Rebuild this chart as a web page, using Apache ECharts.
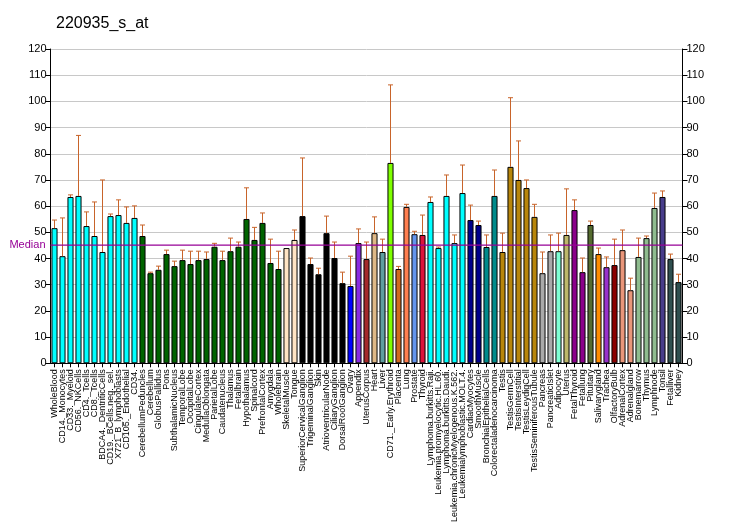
<!DOCTYPE html>
<html><head><meta charset="utf-8">
<script src="https://cdn.jsdelivr.net/npm/echarts@6/dist/echarts.min.js"></script>
<style>html,body{margin:0;padding:0;background:#fff}#c{width:732px;height:530px}</style>
</head><body><div id="c"></div>
<script>
const categories = ["WholeBlood","CD14._Monocytes","CD33._Myeloid","CD56._NKCells","CD4._Tcells","CD8._Tcells","BDCA4._DentriticCells","CD19._BCells.neg._sel.","X721_B_lymphoblasts","CD105._Endothelial","CD34.",
"CerebellumPeduncles","Cerebellum","GlobusPallidus","Pons","SubthalamicNucleus","TemporalLobe","OccipitalLobe","CingulateCortex","MedullaOblongata","ParietalLobe","Caudatenucleus","Thalamus","Fetalbrain","Hypothalamus","Spinalcord","PrefrontalCortex","Amygdala","Wholebrain",
"SkeletalMuscle","Tongue","SuperiorCervicalGanglion","TrigeminalGanglion","Skin","AtrioventricularNode","CiliaryGanglion","DorsalRootGanglion","Ovary","Appendix","UterusCorpus","Heart","Liver","CD71._Early.Erythroid","Placenta","Lung","Prostate","Thyroid",
"Lymphoma.burkitts.Raji.","Leukemia.promyelocytic.HL.60.","Lymphoma.burkitts.Daudi.","Leukemia.chronicMyelogenous.K.562.","Leukemialymphoblastic.MOLT.4.",
"CardiacMyocytes","SmoothMuscle","BronchialEpithelialCells","Colorectaladenocarcinoma","Testis","TestisGermCell","TestisInterstitial","TestisLeydigCell","TestisSeminiferousTubule","Pancreas","PancreaticIslet","Adipocyte","Uterus","FetalThyroid","Fetallung","Pituitary","Salivarygland","Trachea","OlfactoryBulb","AdrenalCortex","Adrenalgland","Bonemarrow","Thymus","Lymphnode","Tonsil","Fetalliver","Kidney"];
const values = [51.6,40.9,63.5,63.9,52.4,48.6,42.5,56.2,56.6,53.6,55.5,
48.6,34.4,35.7,41.7,37.1,39.4,37.9,39.4,39.8,44.5,39.4,42.8,44.5,55.1,47.1,53.6,38.3,36.0,
44.0,47.1,56.2,37.9,34.0,49.7,40.2,30.6,29.5,45.9,39.8,49.7,42.5,76.5,36.0,59.7,49.3,49.0,
61.6,44.0,63.9,45.9,65.0,
54.7,52.8,44.4,63.9,42.5,75.0,70.0,66.9,55.9,34.4,42.8,42.8,49.0,58.5,34.8,52.8,41.7,36.7,37.5,43.2,27.9,40.6,47.8,59.3,63.5,39.8,31.0];
const errTops = [54.7,55.5,64.3,87.0,57.8,61.6,70.0,57.0,62.4,59.7,60.1,
52.8,34.8,37.1,43.2,39.0,43.2,42.8,42.8,42.5,45.8,42.8,47.8,46.3,67.0,51.9,57.4,47.4,42.8,
44.0,50.9,78.4,40.2,36.3,56.2,46.3,34.8,40.9,51.3,46.3,55.9,47.4,106.3,37.0,60.7,50.4,56.6,
63.5,44.4,71.9,49.0,75.7,
60.4,54.3,49.0,73.8,49.7,101.4,84.9,70.0,60.7,42.5,49.0,49.7,66.6,62.4,40.2,54.3,44.0,40.6,47.4,50.9,32.5,47.8,48.6,65.0,65.8,41.7,34.0];
const groupColors = ["#00FFFF","#006400","#FFE4C4","#000000","#0000FF","#8A2BE2","#A52A2A","#DEB887","#5F9EA0","#7FFF00","#D2691E","#FF7F50","#6495ED","#DC143C","#00FFFF","#00008B","#008B8B","#B8860B","#A9A9A9","#7FFFD4","#BDB76B","#8B008B","#556B2F","#FF8C00","#9932CC","#8B0000","#E9967A","#8FBC8F","#483D8B","#2F4F4F"];
const groupSizes = [11,18,2,6,1,1,1,1,1,1,1,1,1,1,5,2,2,5,2,1,1,2,1,1,1,1,2,3,1,2];
const yTicks = [0,10,20,30,40,50,60,70,80,90,100,110,120];
const medianValue = 45;

const barColors = [];
groupSizes.forEach((n,g)=>{for(let i=0;i<n;i++)barColors.push(groupColors[g]);});

const chart = echarts.init(document.getElementById('c'));
const FONT = 'Liberation Sans';
const MEDIAN_COLOR = '#960096';
const yAxisCommon = {
  type:'value', min:0, max:120, interval:10,
  axisLine:{show:true,lineStyle:{color:'#000',width:1}},
  axisTick:{show:true,length:5,lineStyle:{color:'#000'}},
  axisLabel:{color:'#000',fontSize:11,fontFamily:FONT,margin:4},
  splitLine:{show:false}
};
chart.setOption({
  animation:false,
  backgroundColor:'#fff',
  title:{text:'220935_s_at',left:51,top:11,textStyle:{fontFamily:FONT,fontSize:16,fontWeight:'normal',color:'#000'}},
  grid:{left:50.5,right:49.5,top:49,bottom:166.7},
  xAxis:{type:'category',data:categories,
    axisLine:{show:true,lineStyle:{color:'#000',width:1}},
    axisTick:{show:true,alignWithLabel:true,length:4,interval:0,lineStyle:{color:'#000'}},
    axisLabel:{rotate:90,interval:0,fontSize:9,fontFamily:FONT,color:'#000',margin:6},
    splitLine:{show:false}},
  yAxis:[
    Object.assign({},yAxisCommon,{position:'left',splitLine:{show:true,lineStyle:{color:'#C8C8C8',width:1}}}),
    Object.assign({},yAxisCommon,{position:'right'})
  ],
  series:[
    {type:'bar',yAxisIndex:0,barCategoryGap:'24%',
     data:values.map((v,i)=>({value:v,itemStyle:{color:barColors[i]}})),
     itemStyle:{borderColor:'#000',borderWidth:1},
     z:2},
    {type:'custom',yAxisIndex:0,z:3,
     data:values.map((v,i)=>[i,v,errTops[i]]),
     renderItem:function(params,api){
       const i=api.value(0), lo=api.value(1), hi=api.value(2);
       if(hi-lo<0.05) return null;
       const p1=api.coord([i,lo]), p2=api.coord([i,hi]);
       const w=2.5;
       return {type:'group',children:[
         {type:'line',shape:{x1:p1[0],y1:p1[1],x2:p2[0],y2:p2[1]},style:{stroke:'#C8642A',lineWidth:1}},
         {type:'line',shape:{x1:p2[0]-w,y1:p2[1],x2:p2[0]+w,y2:p2[1]},style:{stroke:'#C8642A',lineWidth:1}}
       ]};
     }},
    {type:'custom',yAxisIndex:0,z:10,clip:false,
     data:[[0,medianValue]],
     renderItem:function(params,api){
       const cs=params.coordSys;
       const yc=api.coord([0,api.value(1)])[1];
       return {type:'group',children:[
         {type:'rect',shape:{x:cs.x,y:Math.round(yc)-0.5,width:cs.width,height:1.3},style:{fill:MEDIAN_COLOR}},
         {type:'text',x:cs.x-5,y:yc,style:{text:'Median',fill:MEDIAN_COLOR,font:'11px "Liberation Sans"',align:'right',verticalAlign:'middle'}}
       ]};
     }}
  ]
});
</script></body></html>
